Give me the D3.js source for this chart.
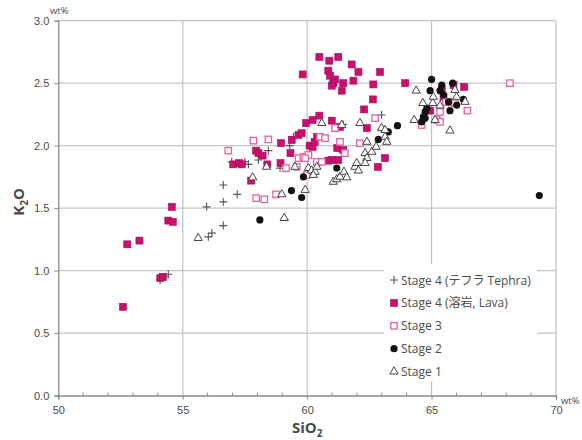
<!DOCTYPE html>
<html>
<head>
<meta charset="utf-8">
<script src="https://cdn.jsdelivr.net/npm/d3@7"></script>
<style>
  body { margin: 0; background: #ffffff; }
  svg { display: block; font-family: "Open Sans", "Noto Sans", "Noto Sans CJK JP", sans-serif; }
</style>
</head>
<body>
<svg id="chart" width="582" height="440"></svg>
<script>
// SiO2 vs K2O (wt%) data
const tephra = [ // Stage 4 (テフラ Tephra)
    [54.09, 0.925], [54.3, 0.95], [54.42, 0.97], [55.96, 1.51], [56.03, 1.27], [56.17, 1.30],
    [56.63, 1.36], [56.63, 1.55], [56.63, 1.685], [57.19, 1.61], [56.97, 1.87], [57.5, 1.87],
    [57.64, 1.85], [58.04, 1.885], [58.44, 1.96], [58.91, 1.82], [59.3, 2.0], [59.45, 2.07],
    [61.45, 2.17], [62.99, 2.245]
];
const lava = [ // Stage 4 (溶岩, Lava)
    [52.6, 0.71], [52.77, 1.21], [53.26, 1.24], [54.1, 0.94], [54.2, 0.95], [54.56, 1.51],
    [54.42, 1.40], [54.6, 1.39], [57.03, 1.85], [57.27, 1.86], [57.37, 1.85], [57.75, 1.72],
    [57.95, 1.96], [58.04, 1.94], [58.21, 1.92], [58.4, 1.85], [58.93, 1.86], [58.95, 2.02],
    [59.33, 1.94], [59.38, 2.045], [59.65, 2.085], [59.78, 2.10], [59.96, 2.18], [60.22, 2.205],
    [60.49, 2.24], [60.99, 2.20], [61.32, 2.15], [62.4, 2.14], [60.1, 2.0], [60.22, 1.99],
    [60.3, 2.03], [60.4, 2.07], [61.21, 1.98], [61.45, 1.965], [61.25, 1.885], [60.99, 1.885],
    [60.85, 1.88], [63.13, 1.90], [62.84, 1.83],
    [60.49, 2.71], [60.89, 2.68], [61.25, 2.71], [61.79, 2.65], [62.06, 2.59], [62.93, 2.59],
    [60.85, 2.60], [60.92, 2.56], [61.12, 2.53], [61.05, 2.50], [60.99, 2.48], [61.45, 2.50],
    [61.86, 2.52], [61.39, 2.44], [62.66, 2.49], [63.94, 2.50], [59.82, 2.57], [62.64, 2.37],
    [62.29, 2.29],
    [66.31, 2.47], [65.88, 2.485], [65.48, 2.39], [64.94, 2.28], [65.68, 2.35], [65.41, 2.445]
];
const stage3 = [
    [56.83, 1.96], [57.84, 2.04], [58.44, 2.05], [57.95, 1.58], [58.28, 1.57], [58.75, 1.61],
    [59.15, 1.82], [59.58, 1.83], [59.65, 1.90], [59.85, 1.91], [60.05, 1.925], [59.92, 1.90],
    [60.39, 1.87], [60.59, 1.87], [59.98, 1.765], [60.52, 2.07], [60.72, 2.06], [61.32, 2.03],
    [61.52, 1.94], [62.12, 2.02], [61.12, 2.14], [62.73, 2.22], [66.44, 2.28], [65.34, 2.27],
    [65.21, 2.205], [64.6, 2.165], [65.34, 2.19], [65.94, 2.34], [65.58, 2.35], [68.15, 2.50]
];
const stage2 = [
    [58.1, 1.405], [59.37, 1.64], [59.78, 1.585], [59.85, 1.75], [61.19, 1.82], [62.86, 2.05],
    [63.26, 2.11], [63.63, 2.16], [64.6, 2.19], [64.67, 2.23], [64.74, 2.22], [64.74, 2.27],
    [64.81, 2.30], [64.94, 2.44], [65.0, 2.53], [65.34, 2.44], [65.41, 2.485], [65.48, 2.405],
    [65.68, 2.35], [65.74, 2.28], [65.85, 2.50], [66.01, 2.325], [66.28, 2.37], [69.33, 1.60]
];
const stage1 = [
    [55.62, 1.26], [57.81, 1.745], [58.37, 1.83], [58.98, 1.61], [59.08, 1.42], [59.51, 1.83],
    [59.92, 1.645], [60.05, 1.82], [60.18, 1.80], [60.32, 1.79], [60.25, 1.765], [60.39, 1.83],
    [60.59, 2.18], [61.05, 1.71], [61.19, 1.73], [61.32, 1.75], [61.48, 1.79], [61.59, 1.745],
    [61.39, 2.165], [61.92, 1.83], [61.99, 1.86], [62.06, 1.80], [62.12, 2.18], [62.33, 1.94],
    [62.4, 1.90], [62.33, 1.86], [62.6, 1.95], [62.77, 1.99], [62.4, 2.03], [62.99, 2.14],
    [63.13, 2.125], [63.13, 2.07], [63.2, 2.03], [64.3, 2.205], [64.38, 2.44], [64.65, 2.34],
    [65.05, 2.34], [65.07, 2.39], [65.14, 2.205], [65.34, 2.32], [65.74, 2.12], [65.94, 2.445],
    [66.01, 2.39], [66.35, 2.35]
];

const xTicks = [50, 55, 60, 65, 70];
const yTicks = [0, 0.5, 1.0, 1.5, 2.0, 2.5, 3.0];
const seriesNames = ["Stage 4 (テフラ Tephra)", "Stage 4 (溶岩, Lava)", "Stage 3", "Stage 2", "Stage 1"];

const svg = d3.select("#chart");

// Scales
const x = d3.scaleLinear().domain([50, 70]).range([58.3, 556]);
const y = d3.scaleLinear().domain([0, 3]).range([395.5, 20.7]);

const gridColor = "#c4c4c4";
const axisColor = "#8a8a8a";
const textColor = "#4a4a4a";

// Gridlines
svg.append("g")
    .selectAll("line")
    .data(yTicks.filter(d => d > 0))
    .join("line")
    .attr("x1", x(50)).attr("x2", x(70))
    .attr("y1", d => y(d)).attr("y2", d => y(d))
    .attr("stroke", gridColor).attr("stroke-width", 1.3);

svg.append("g")
    .selectAll("line")
    .data(xTicks.filter(d => d > 50))
    .join("line")
    .attr("x1", d => x(d)).attr("x2", d => x(d))
    .attr("y1", y(0)).attr("y2", y(3))
    .attr("stroke", gridColor).attr("stroke-width", 1.3);

// Y axis
const yAxis = svg.append("g")
    .attr("transform", `translate(${x(50)},0)`)
    .call(d3.axisLeft(y).tickValues(yTicks).tickFormat(d3.format(".1f")).tickSize(4).tickPadding(5));
yAxis.select(".domain").attr("stroke", axisColor).attr("stroke-width", 1.3);
yAxis.selectAll(".tick line").attr("stroke", axisColor);
yAxis.selectAll("text").attr("fill", textColor).style("font-size", "11px");

// X axis: minor ticks inside, major ticks outside
svg.append("g")
    .attr("transform", `translate(0,${y(0)})`)
    .selectAll("line")
    .data(d3.range(51, 70).filter(d => d % 5 !== 0))
    .join("line")
    .attr("x1", d => x(d)).attr("x2", d => x(d))
    .attr("y1", 0).attr("y2", -3)
    .attr("stroke", axisColor);

const xAxis = svg.append("g")
    .attr("transform", `translate(0,${y(0)})`)
    .call(d3.axisBottom(x).tickValues(xTicks).tickSize(4).tickPadding(7));
xAxis.select(".domain").attr("stroke", axisColor).attr("stroke-width", 1.3);
xAxis.selectAll(".tick line").attr("stroke", axisColor);
xAxis.selectAll("text").attr("fill", textColor).style("font-size", "11px");

// Axis titles and units
svg.append("text")
    .attr("transform", `translate(24,${y(1.55)}) rotate(-90)`)
    .attr("text-anchor", "middle")
    .attr("fill", textColor)
    .style("font-size", "15px").style("font-weight", "bold")
    .html('K<tspan dy="4" font-size="10px">2</tspan><tspan dy="-4">O</tspan>');

svg.append("text")
    .attr("x", x(60)).attr("y", 433)
    .attr("text-anchor", "middle")
    .attr("fill", textColor)
    .style("font-size", "15px").style("font-weight", "bold")
    .html('SiO<tspan dy="4" font-size="10px">2</tspan>');

svg.append("text")
    .attr("x", 50).attr("y", 14)
    .attr("fill", textColor).style("font-size", "9.5px")
    .text("wt%");

svg.append("text")
    .attr("x", 561).attr("y", 404)
    .attr("fill", textColor).style("font-size", "9.5px")
    .text("wt%");

// Marker styles
const lavaFill = "#c8106e";
const st3Stroke = "#e5609f";
const markGray = "#555555";

function drawMarker(g, kind) {
    if (kind === 0) {
        g.append("path")
            .attr("d", d3.symbol(d3.symbolCross, 0).size(0)())
            .attr("d", "M-4,0H4M0,-4V4")
            .attr("stroke", markGray).attr("stroke-width", 1.1).attr("fill", "none");
    } else if (kind === 1) {
        g.append("rect").attr("x", -3.5).attr("y", -3.5).attr("width", 7).attr("height", 7)
            .attr("fill", lavaFill).attr("stroke", "#a80a5a").attr("stroke-width", 0.6);
    } else if (kind === 2) {
        g.append("rect").attr("x", -3.2).attr("y", -3.2).attr("width", 6.4).attr("height", 6.4)
            .attr("fill", "#ffffff").attr("stroke", st3Stroke).attr("stroke-width", 1.3);
    } else if (kind === 3) {
        g.append("circle").attr("r", 3.6).attr("fill", "#111111");
    } else {
        g.append("path")
            .attr("d", d3.symbol(d3.symbolTriangle, 30)())
            .attr("fill", "#ffffff").attr("stroke", "#444444").attr("stroke-width", 1);
    }
}

// Points, in series order (later series on top)
const allSeries = [tephra, lava, stage3, stage2, stage1];
allSeries.forEach((data, i) => {
    svg.append("g")
        .selectAll("g")
        .data(data)
        .join("g")
        .attr("transform", d => `translate(${x(d[0])},${y(d[1])})`)
        .each(function() { drawMarker(d3.select(this), i); });
});

// Legend
const legend = svg.append("g");
legend.append("rect")
    .attr("x", 384).attr("y", 264).attr("width", 153).attr("height", 117)
    .attr("fill", "#ffffff");

seriesNames.forEach((name, i) => {
    const row = legend.append("g").attr("transform", `translate(394,${280 + i * 22.9})`);
    drawMarker(row, i);
    row.append("text")
        .attr("x", 7).attr("y", 4.5)
        .attr("fill", textColor)
        .style("font-size", "12px")
        .text(name);
});
</script>
</body>
</html>
